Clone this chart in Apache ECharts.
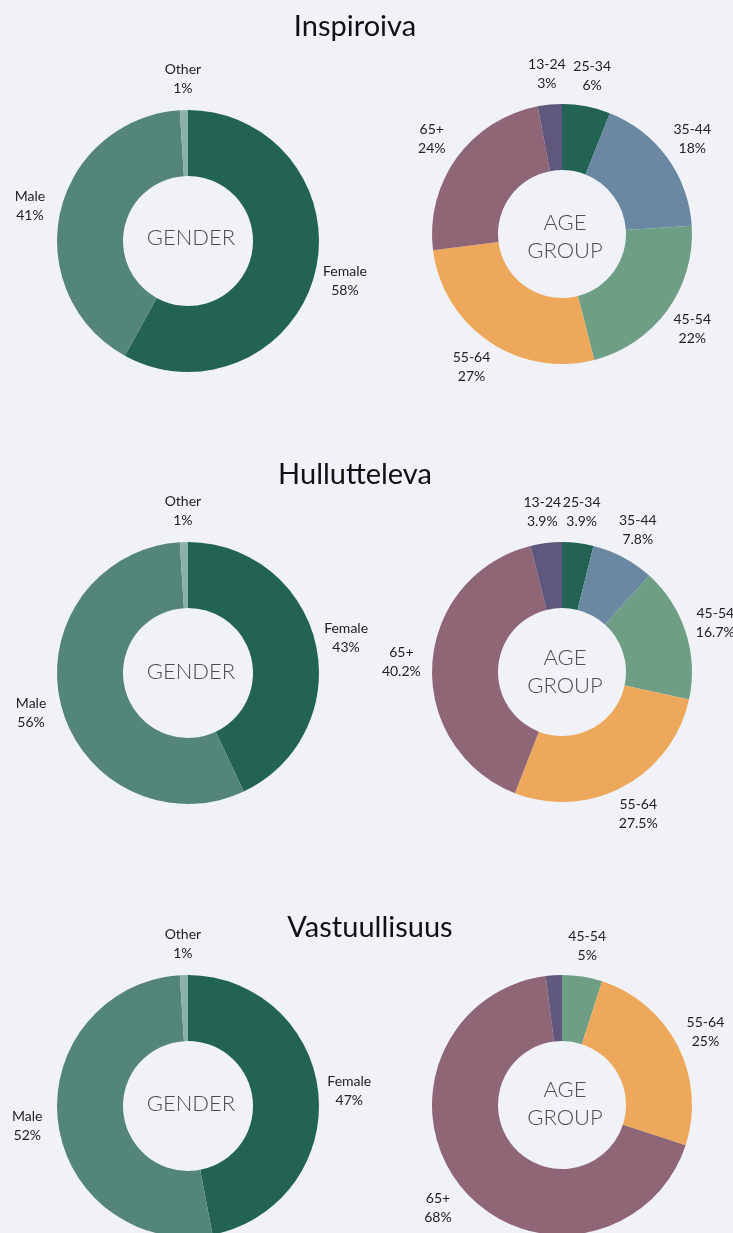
<!DOCTYPE html>
<html>
<head>
<meta charset="utf-8">
<script src="https://cdn.jsdelivr.net/npm/echarts@6/dist/echarts.min.js"></script>
<style>
html,body{margin:0;padding:0;background:#f0f2f7;}
#chart{width:733px;height:1233px;}
</style>
</head>
<body>
<div id="chart"></div>
<script>
const panelTitles = ['Inspiroiva', 'Hullutteleva', 'Vastuullisuus'];
const genderCats = ['Female', 'Male', 'Other'];
const genderInspiroiva = [58, 41, 1];
const genderHullutteleva = [43, 56, 1];
const genderVastuullisuus = [47, 52, 1];
const ageCats = ['25-34', '35-44', '45-54', '55-64', '65+', '13-24'];
const ageInspiroiva = [6, 18, 22, 27, 24, 3];
const ageHullutteleva = [3.9, 7.8, 16.7, 27.5, 40.2, 3.9];
const ageVastuullisuus = [0, 0, 5, 25, 68, 2];

const genderColors = ['#226354', '#54857b', '#8ab2ab'];
const ageColors = ['#226354', '#6a88a2', '#6e9e84', '#eda85b', '#8f6676', '#5f587c'];

const FONT = 'Lato, "Noto Sans", sans-serif';
const genderSets = [genderInspiroiva, genderHullutteleva, genderVastuullisuus];
const ageSets = [ageInspiroiva, ageHullutteleva, ageVastuullisuus];
const rowY = [241, 673, 1106];
const ageRowY = [234, 672, 1105];
const genderTextY = [238, 672, 1104];
const ageTextY = [237, 672, 1104];
const titleY = [27, 475, 928];
const titleX = [355, 355, 370];

function build(cats, vals, colors) {
  const out = [];
  vals.forEach((v, i) => {
    if (v > 0) out.push({ name: cats[i], value: v, itemStyle: { color: colors[i] } });
  });
  return out;
}

const labelStyle = {
  show: true, position: 'inside', formatter: p => p.name + '\n' + p.value + '%',
  fontFamily: FONT, fontSize: 14, lineHeight: 19, color: '#222'
};

const series = [];
const titles = [];
for (let r = 0; r < 3; r++) {
  titles.push({
    text: panelTitles[r], left: titleX[r], top: titleY[r], padding: 0, textAlign: 'center', textVerticalAlign: 'middle',
    textStyle: { fontFamily: FONT, fontSize: 29, fontWeight: 'normal', color: '#111' }
  });
  titles.push({
    text: 'GENDER', left: 191, top: genderTextY[r], padding: 0, textAlign: 'center', textVerticalAlign: 'middle',
    textStyle: { fontFamily: FONT, fontSize: 22, fontWeight: 300, color: '#4d4d4d' }
  });
  titles.push({
    text: 'AGE\nGROUP', left: 565, top: ageTextY[r], padding: 0, textAlign: 'center', textVerticalAlign: 'middle',
    textStyle: { fontFamily: FONT, fontSize: 22, fontWeight: 300, color: '#4d4d4d', lineHeight: 28 }
  });

  const gData = build(genderCats, genderSets[r], genderColors);
  const aData = build(ageCats, ageSets[r], ageColors);

  series.push({
    type: 'pie', center: [188, rowY[r]], radius: [65, 131], startAngle: 90,
    silent: true, label: { show: false }, labelLine: { show: false }, data: gData
  });
  series.push({
    type: 'pie', center: [188, rowY[r]], radius: [146, 172], startAngle: 90, silent: true,
    itemStyle: { color: 'rgba(0,0,0,0)' }, labelLine: { show: false },
    label: labelStyle,
    data: gData.map(d => ({ name: d.name, value: d.value, itemStyle: { color: 'rgba(0,0,0,0)' } }))
  });
  series.push({
    type: 'pie', center: [562, ageRowY[r]], radius: [64, 130], startAngle: 90,
    silent: true, label: { show: false }, labelLine: { show: false }, data: aData
  });
  series.push({
    type: 'pie', center: [562, ageRowY[r]], radius: [145, 171], startAngle: 90, silent: true,
    minShowLabelAngle: 8,
    itemStyle: { color: 'rgba(0,0,0,0)' }, labelLine: { show: false },
    label: labelStyle,
    data: aData.map(d => ({ name: d.name, value: d.value, itemStyle: { color: 'rgba(0,0,0,0)' } }))
  });
}

const chart = echarts.init(document.getElementById('chart'), null, { renderer: 'canvas' });
chart.setOption({
  backgroundColor: '#f0f2f7',
  animation: false,
  title: titles,
  series: series
});
</script>
</body>
</html>
